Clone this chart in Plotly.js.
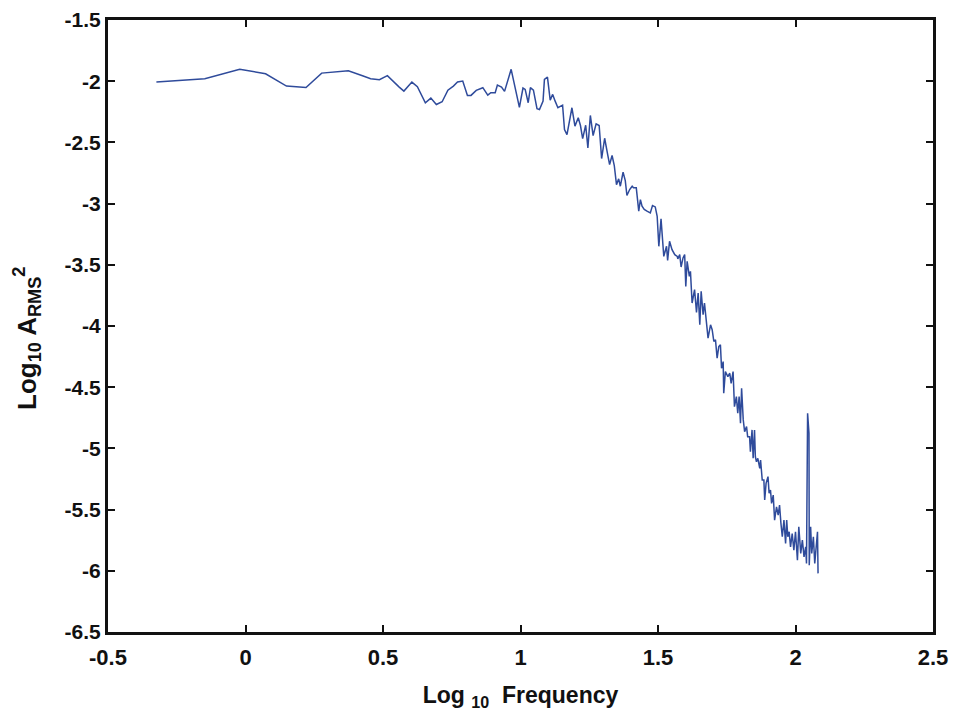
<!DOCTYPE html>
<html>
<head>
<meta charset="utf-8">
<script src="https://cdn.plot.ly/plotly-3.0.1.min.js"></script>
<style>html,body{margin:0;padding:0;background:#fff;}#chart{width:956px;height:711px;}</style>
</head>
<body>
<div id="chart"></div>
<script>
// Log10 frequency (x) and Log10 A_RMS^2 (y)
const logFreq = [
-0.324,-0.148,-0.021,0.073,0.149,0.220,0.277,0.324,0.374,0.428,0.455,0.487,0.516,0.559,0.576,0.605,0.625,0.654,0.674,0.694,
0.715,0.736,0.756,0.771,0.790,0.807,0.820,0.839,0.863,0.881,0.892,0.908,0.916,0.931,0.942,0.966,0.996,1.009,1.017,1.028,
1.036,1.047,1.060,1.069,1.082,1.087,1.098,1.108,1.117,1.126,1.136,1.153,1.160,1.169,1.187,1.198,1.210,1.218,1.226,1.237,
1.245,1.254,1.264,1.275,1.286,1.295,1.306,1.317,1.324,1.333,1.341,1.349,1.357,1.363,1.373,1.381,1.387,1.397,1.406,1.411,
1.421,1.430,1.436,1.442,1.450,1.460,1.472,1.480,1.490,1.497,1.503,1.511,1.521,1.531,1.535,1.542,1.551,1.561,1.570,1.572,
1.579,1.584,1.591,1.597,1.601,1.606,1.614,1.618,1.624,1.633,1.640,1.646,1.652,1.657,1.664,1.669,1.676,1.682,1.691,1.697,
1.703,1.709,1.715,1.721,1.727,1.731,1.737,1.739,1.745,1.754,1.761,1.766,1.773,1.778,1.785,1.790,1.795,1.800,1.804,1.810,
1.815,1.822,1.826,1.833,1.836,1.842,1.846,1.851,1.854,1.858,1.863,1.870,1.873,1.879,1.885,1.888,1.893,1.900,1.904,1.909,
1.913,1.919,1.924,1.931,1.937,1.942,1.947,1.952,1.958,1.964,1.968,1.972,1.977,1.982,1.988,1.994,2.000,2.007,2.012,2.019,
2.025,2.031,2.037,2.040,2.044,2.049,2.050,2.055,2.059,2.065,2.070,2.075,2.080,2.082
];
const logPower = [
-2.007,-1.980,-1.903,-1.939,-2.040,-2.051,-1.934,-1.924,-1.914,-1.958,-1.980,-1.988,-1.955,-2.048,-2.081,-2.007,-2.045,-2.176,-2.138,-2.190,
-2.168,-2.073,-2.040,-2.007,-1.999,-2.116,-2.116,-2.075,-2.053,-2.114,-2.094,-2.094,-2.032,-2.048,-2.083,-1.903,-2.214,-2.056,-2.067,-2.176,
-2.053,-2.073,-2.225,-2.231,-2.163,-1.985,-1.966,-2.155,-2.108,-2.163,-2.217,-2.196,-2.395,-2.436,-2.217,-2.367,-2.299,-2.362,-2.469,-2.360,
-2.545,-2.280,-2.444,-2.348,-2.362,-2.632,-2.466,-2.600,-2.681,-2.607,-2.689,-2.845,-2.798,-2.858,-2.744,-2.812,-2.934,-2.885,-2.858,-2.871,
-2.871,-3.062,-2.967,-3.021,-3.048,-3.062,-3.076,-3.016,-3.027,-3.104,-3.349,-3.125,-3.431,-3.349,-3.464,-3.308,-3.376,-3.417,-3.431,-3.452,
-3.417,-3.518,-3.444,-3.417,-3.677,-3.472,-3.595,-3.554,-3.812,-3.703,-3.889,-3.730,-3.990,-3.717,-3.908,-3.812,-3.949,-4.099,-3.990,-4.030,
-4.126,-4.113,-4.263,-4.168,-4.154,-4.345,-4.291,-4.549,-4.372,-4.413,-4.386,-4.468,-4.372,-4.659,-4.577,-4.713,-4.577,-4.795,-4.508,-4.767,
-4.863,-4.822,-4.904,-4.904,-5.027,-4.849,-5.081,-4.849,-5.068,-5.109,-5.081,-5.163,-5.095,-5.259,-5.259,-5.422,-5.286,-5.231,-5.367,-5.340,
-5.449,-5.381,-5.586,-5.477,-5.545,-5.463,-5.613,-5.722,-5.586,-5.777,-5.586,-5.722,-5.681,-5.804,-5.695,-5.831,-5.681,-5.913,-5.640,-5.858,
-5.749,-5.886,-5.804,-5.940,-4.713,-4.876,-5.954,-5.640,-5.858,-5.722,-5.940,-5.777,-5.681,-6.021
];
const xTicks = [-0.5, 0, 0.5, 1, 1.5, 2, 2.5];
const xTickText = ['-0.5', '0', '0.5', '1', '1.5', '2', '2.5'];
const yTicks = [-6.5, -6, -5.5, -5, -4.5, -4, -3.5, -3, -2.5, -2, -1.5];
const yTickText = ['-6.5', '-6', '-5.5', '-5', '-4.5', '-4', '-3.5', '-3', '-2.5', '-2', '-1.5'];
const xTitle = 'Log <sub>10</sub>  Frequency';
const yTitle = 'Log<sub>10</sub> A<sub>RMS</sub><sup>2</sup>';

const FONT = 'Liberation Sans, Arial, Helvetica, sans-serif';

const trace = {
  x: logFreq, y: logPower, type: 'scatter', mode: 'lines',
  line: {color: '#2f4b9b', width: 1.5}, hoverinfo: 'skip'
};

const axisCommon = {
  showgrid: false, zeroline: false, showline: true, mirror: 'ticks',
  linecolor: '#111', linewidth: 3, ticks: 'inside', ticklen: 7, tickwidth: 2, tickcolor: '#111'
};

const layout = {
  width: 956, height: 711,
  margin: {l: 108, r: 23, t: 20, b: 79},
  paper_bgcolor: '#fff', plot_bgcolor: '#fff',
  showlegend: false,
  xaxis: Object.assign({}, axisCommon, {
    range: [-0.5, 2.5], tickvals: xTicks, ticktext: xTickText,
    tickfont: {family: FONT, size: 22, color: '#111', weight: 'bold'},
    ticklabelstandoff: 4,
    title: {text: xTitle, font: {family: FONT, size: 23, color: '#111', weight: 'bold'}, standoff: 18}
  }),
  yaxis: Object.assign({}, axisCommon, {
    range: [-6.5, -1.5], tickvals: yTicks, ticktext: yTickText,
    tickfont: {family: FONT, size: 21, color: '#111', weight: 'bold'}
  }),
  annotations: [{
    text: yTitle, textangle: -90, showarrow: false,
    xref: 'paper', yref: 'paper', x: 0, y: (632 - 339) / 612,
    xanchor: 'center', yanchor: 'middle', xshift: -81,
    font: {family: FONT, size: 26, color: '#111', weight: 'bold'}
  }]
};

Plotly.newPlot('chart', [trace], layout, {staticPlot: true, displayModeBar: false});
</script>
</body>
</html>
